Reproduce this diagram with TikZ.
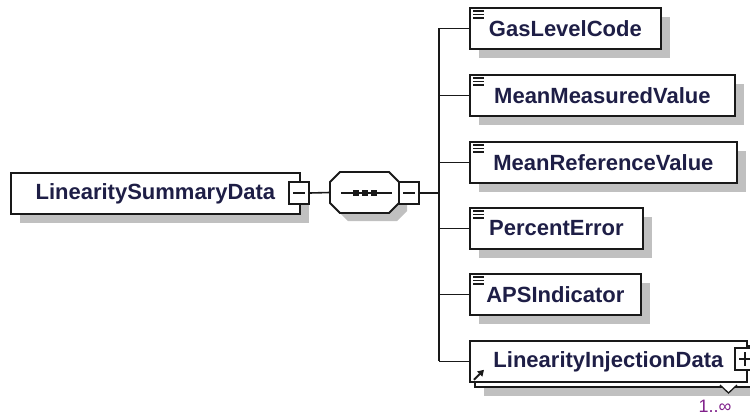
\documentclass[tikz,border=0pt]{standalone}
\usepackage{fontspec}
\setmainfont{Liberation Sans}
\usetikzlibrary{shadows,arrows.meta,calc}
\definecolor{shadowc}{RGB}{192,192,192}
\definecolor{linec}{RGB}{25,25,25}
\definecolor{namec}{RGB}{30,30,70}
\definecolor{cardc}{RGB}{128,32,138}
\tikzset{
  elbox/.style={draw=linec, line width=1.8pt, fill=white, rectangle, inner sep=0pt,
    minimum height=41pt, anchor=north west, text=namec,
    font=\bfseries\fontsize{22}{26}\selectfont,
    drop shadow={shadow xshift=9pt, shadow yshift=-9pt, fill=shadowc, opacity=1}},
  plainbox/.style={draw=linec, line width=1.8pt, fill=white, rectangle, inner sep=0pt,
    minimum height=41pt, anchor=north west, text=namec,
    font=\bfseries\fontsize{22}{26}\selectfont},
  togglebox/.style={draw=linec, line width=1.6pt, fill=white, rectangle, inner sep=0pt,
    minimum width=20pt, minimum height=22pt},
  conn/.style={draw=linec, line width=1.6pt},
  iconline/.style={draw=linec, line width=1.3pt},
}
\begin{document}
\begin{tikzpicture}[x=1pt,y=-1pt]
\useasboundingbox (0,0) rectangle (750,418);

% root element
\node[elbox, minimum width=289pt] (root) at (10,172) {LinearitySummaryData};
\node[togglebox] (rootm) at (299,193) {};
\draw[iconline] ($(rootm.center)+(-6,0)$) -- ($(rootm.center)+(6,0)$);

% sequence compositor
\fill[shadowc] (338,190) -- (348,180) -- (397,180) -- (407,190) -- (407,211) -- (397,221) -- (348,221) -- (338,211) -- cycle;
\node[inner sep=0pt, minimum width=69pt, minimum height=41pt] (seq) at (364.5,192.5) {};
\draw[draw=linec, line width=1.8pt, fill=white] (330,182) -- (340,172) -- (389,172) -- (399,182) -- (399,203) -- (389,213) -- (340,213) -- (330,203) -- cycle;
\draw[conn] (341,193) -- (392,193);
\foreach \cx in {356,365,374} \fill[linec] (\cx-2.6,190.4) rectangle (\cx+2.6,195.6);
\node[togglebox] (seqm) at (409,193) {};
\draw[iconline] ($(seqm.center)+(-6,0)$) -- ($(seqm.center)+(6,0)$);

% children
\node[elbox, minimum width=191pt] (c1) at (469,7) {GasLevelCode};
\node[elbox, minimum width=265pt] (c2) at (469,74) {MeanMeasuredValue};
\node[elbox, minimum width=267pt] (c3) at (469,141) {MeanReferenceValue};
\node[elbox, minimum width=173pt] (c4) at (469,207) {PercentError};
\node[elbox, minimum width=171pt] (c5) at (469,273) {APSIndicator};

% repeated element (stacked boxes)
\node[elbox, minimum width=277pt] (c6back) at (474,345) {};
\node[plainbox, minimum width=277pt] (c6) at (469,340) {LinearityInjectionData};
\node[togglebox] (c6p) at (745,359) {};
\draw[iconline] ($(c6p.center)+(-6,0)$) -- ($(c6p.center)+(6,0)$);
\draw[iconline] ($(c6p.center)+(0,-7)$) -- ($(c6p.center)+(0,7)$);
\draw[draw=linec, line width=1.3pt, fill=white] (720,385) -- (728.5,393) -- (737,385);
\node[text=cardc, font=\fontsize{18}{20}\selectfont, inner sep=0pt] (card) at (715,406) {1..∞};

% element icons
\foreach \n in {c1,c2,c3,c4,c5}
  \foreach \dy in {4,7.5,11}
    \draw[iconline] ($(\n.north west)+(4,\dy)$) -- ++(11,0);
% reference arrow icon
\draw[linec, line width=2pt, -{Triangle[length=6pt,width=7pt]}] ($(c6.south west)+(5,-3)$) -- ++(10,-10);

% connectors
\coordinate (bus) at (439,193);
\draw[conn] (rootm.east) -- (seq.west);
\draw[conn] (seqm.east) -- (bus);
\draw[conn] (bus |- c1.west) -- (bus |- c6.west);
\foreach \n in {c1,c2,c3,c4,c5,c6}
  \draw[conn] (bus |- \n.west) -- (\n.west);
\end{tikzpicture}
\end{document}
